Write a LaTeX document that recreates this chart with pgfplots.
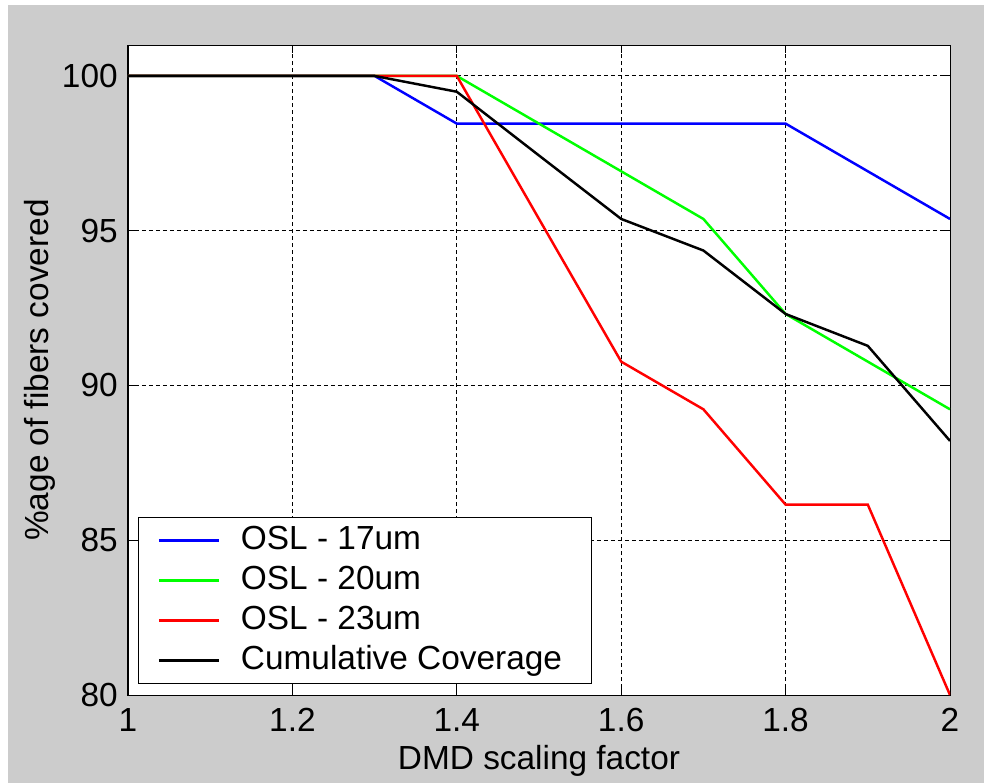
\documentclass[border=0pt]{standalone}
\usepackage{pgfplots}
\pgfplotsset{compat=1.18}
\usepackage{fontspec}
\setmainfont{Liberation Sans}
\definecolor{figbg}{RGB}{204,204,204}

\pgfplotstableread{
x    s17    s20    s23    cum
1.0  100.00 100.00 100.00 100.00
1.1  100.00 100.00 100.00 100.00
1.2  100.00 100.00 100.00 100.00
1.3  100.00 100.00 100.00 100.00
1.4  98.46  100.00 100.00 99.49
1.5  98.46  98.46  95.38  97.43
1.6  98.46  96.92  90.77  95.38
1.7  98.46  95.38  89.23  94.36
1.8  98.46  92.31  86.15  92.31
1.9  96.92  90.77  86.15  91.28
2.0  95.38  89.23  80.00  88.21
}\coverage

\begin{document}
\fontsize{19}{22}\selectfont
\begin{tikzpicture}
\useasboundingbox (0,0) rectangle (19.68cm,15.66cm);
\fill[figbg] (0.16cm,0cm) rectangle (19.68cm,15.56cm);
\begin{axis}[
    at={(2.56cm,1.76cm)}, anchor=south west,
    scale only axis, width=16.44cm, height=13cm,
    xmin=1, xmax=2, ymin=80, ymax=101,
    xtick={1,1.2,1.4,1.6,1.8,2},
    xticklabels={1,1.2,1.4,1.6,1.8,2},
    ytick={80,85,90,95,100},
    yticklabels={80,85,90,95,100},
    xticklabel style={inner sep=0pt, yshift=-0.26cm},
    yticklabel style={inner sep=0pt, xshift=-0.2cm},
    tick align=inside, xtick pos=both, ytick pos=both,
    major tick length=0.16cm,
    tick style={black, line width=0.57pt},
    axis line style={black, line width=0.57pt},
    axis background/.style={fill=white},
    grid=major,
    major grid style={black, line width=0.57pt, dash pattern=on 0.08cm off 0.06cm},
    xlabel={DMD scaling factor},
    ylabel={\%age of fibers covered},
    x label style={at={(axis description cs:0.5,-0.102)}, anchor=center},
    y label style={at={(axis description cs:-0.107,0.5)}, anchor=center, rotate=0},
    legend cell align=left,
    legend style={
        at={(axis description cs:0.0122,0.0169)}, anchor=south west,
        draw=black, line width=0.57pt, fill=white,
        inner xsep=0.38cm, inner ysep=0.06cm,
        row sep=0pt,
        nodes={inner xsep=0pt, inner ysep=0pt, text height=14pt, text depth=4pt, minimum height=22.8pt},
        /tikz/every odd column/.append style={column sep=0.42cm},
    },
    legend image code/.code={\draw[#1, line width=1.4pt] (0cm,0cm) -- (1.2cm,0cm);},
    every axis plot/.append style={line width=1.4pt},
]
\addplot[blue] table[x=x, y=s17] {\coverage};
\addplot[green] table[x=x, y=s20] {\coverage};
\addplot[red] table[x=x, y=s23] {\coverage};
\addplot[black] table[x=x, y=cum] {\coverage};
\legend{OSL - 17um, OSL - 20um, OSL - 23um, Cumulative Coverage\kern0.2cm\null}
\end{axis}
\end{tikzpicture}
\end{document}
